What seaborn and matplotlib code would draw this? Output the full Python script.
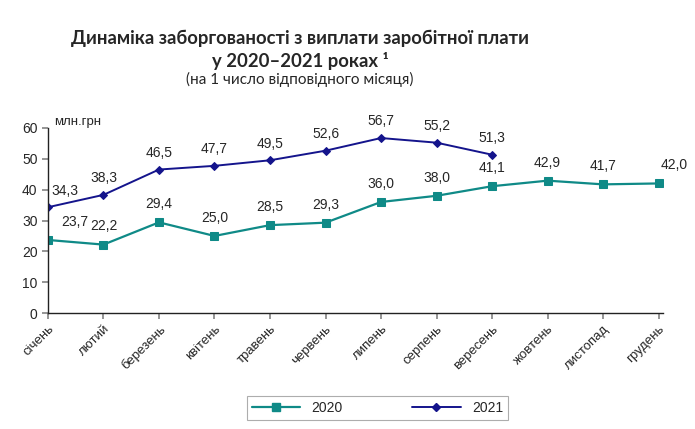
import numpy as np
import pandas as pd
import seaborn as sns
import matplotlib.pyplot as plt
from matplotlib.lines import Line2D

sns.set_theme(style="white")
plt.rcParams['font.family'] = ['Liberation Sans', 'DejaVu Sans']

# Дані (млн.грн, на 1 число місяця)
months = ["січень", "лютий", "березень", "квітень", "травень", "червень",
          "липень", "серпень", "вересень", "жовтень", "листопад", "грудень"]
debt_2020 = [23.7, 22.2, 29.4, 25.0, 28.5, 29.3, 36.0, 38.0, 41.1, 42.9, 41.7, 42.0]
debt_2021 = [34.3, 38.3, 46.5, 47.7, 49.5, 52.6, 56.7, 55.2, 51.3]

c2020 = "#0f8a87"
c2021 = "#14148c"

df20 = pd.DataFrame({"x": range(len(debt_2020)), "y": debt_2020})
df21 = pd.DataFrame({"x": range(len(debt_2021)), "y": debt_2021})

fig = plt.figure(figsize=(6.95, 4.29), dpi=100)
ax = fig.add_axes([0.069, 0.270, 0.885, 0.432])

sns.lineplot(data=df20, x="x", y="y", ax=ax, color=c2020, lw=1.6,
             marker="s", markersize=6, markeredgecolor=c2020)
sns.lineplot(data=df21, x="x", y="y", ax=ax, color=c2021, lw=1.4,
             marker="D", markersize=4, markeredgecolor=c2021)

# підписи значень
for i, v in enumerate(debt_2020):
    dx = 0
    if i == 0:
        dx = 19
    elif i == len(debt_2020) - 1:
        dx = 11
    ax.annotate(f"{v:.1f}".replace(".", ","), (i, v), xytext=(dx, 8),
                textcoords="offset points", ha="center", va="bottom", fontsize=10)
for i, v in enumerate(debt_2021):
    dx = 12 if i == 0 else 0
    ax.annotate(f"{v:.1f}".replace(".", ","), (i, v), xytext=(dx, 7),
                textcoords="offset points", ha="center", va="bottom", fontsize=10)

ax.set_xlim(0, 11.08)
ax.set_ylim(0, 60)
ax.set_yticks(range(0, 61, 10))
ax.set_xticks(range(len(months)))
ax.set_xticklabels(months, rotation=45, ha="right", rotation_mode="anchor", fontsize=9.5)
ax.tick_params(axis="y", labelsize=10, length=4, color="#888888", direction="out", left=True)
ax.tick_params(axis="x", length=4, color="#888888", direction="out", bottom=True, pad=3)
ax.set_xlabel("")
ax.set_ylabel("")
sns.despine(ax=ax)
for s in ["left", "bottom"]:
    ax.spines[s].set_color("#222222")
    ax.spines[s].set_linewidth(1.0)

ax.text(0.01, 1.0, "млн.грн", transform=ax.transAxes, fontsize=9.5, va="bottom", ha="left")

fig.text(0.432, 0.91, "Динаміка заборгованості з виплати заробітної плати",
         ha="center", va="center", fontsize=13.3, fontweight="bold", family=["Lato", "DejaVu Sans"])
fig.text(0.432, 0.858, "у 2020–2021 роках ¹",
         ha="center", va="center", fontsize=13.3, fontweight="bold", family=["Lato", "DejaVu Sans"])
fig.text(0.432, 0.815, "(на 1 число відповідного місяця)",
         ha="center", va="center", fontsize=11, family=["Lato", "DejaVu Sans"])

handles = [Line2D([], [], color=c2020, marker="s", markersize=6, lw=1.6),
           Line2D([], [], color=c2021, marker="D", markersize=4, lw=1.4)]
leg = fig.legend(handles, ["2020", "2021"], loc="center", bbox_to_anchor=(0.543, 0.049),
                 ncol=2, fontsize=10, frameon=True, fancybox=False, handlelength=3.5,
                 columnspacing=5, borderpad=0.35)
leg.get_frame().set_edgecolor("#999999")
leg.get_frame().set_linewidth(0.8)

fig.savefig("out.png", dpi=100)
